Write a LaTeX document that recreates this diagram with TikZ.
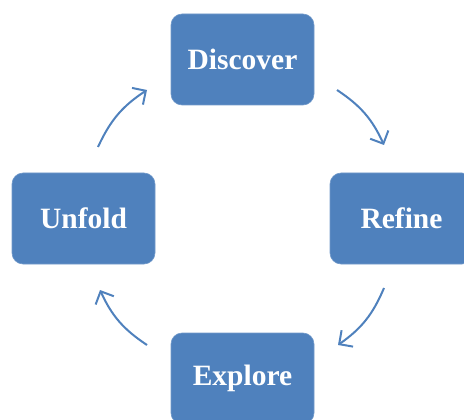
\documentclass[tikz,border=0pt]{standalone}
\usepackage{fontspec}
\setmainfont{Liberation Serif}
\usetikzlibrary{arrows.meta}
\definecolor{boxblue}{HTML}{4F81BD}
\tikzset{
  stagebox/.style={fill=boxblue, draw=boxblue!80!white, line width=0.6pt, rounded corners=11pt,
    minimum width=143pt, minimum height=91pt, inner sep=0pt,
    text=white, font=\fontsize{29.5}{32}\selectfont\bfseries},
  cyclearrow/.style={draw=boxblue, line width=2pt, bend left=16,
    -{Straight Barb[length=10pt,width=20pt,line width=2pt]}}
}
\begin{document}
\begin{tikzpicture}[x=1pt,y=-1pt]
\useasboundingbox (0,0) rectangle (464,420);
\clip (0,0) rectangle (464,420);
\node[stagebox] (discover) at (242.5,59.5) {\raisebox{1pt}{Discover}};
\node[stagebox] (refine) at (401.5,218.5) {\raisebox{1pt}{Refine}};
\node[stagebox] (explore) at (242.5,378.5) {\raisebox{1pt}{Explore}};
\node[stagebox] (unfold) at (83.5,218.5) {\raisebox{1pt}{Unfold}};
\coordinate (a1s) at (98,147);
\coordinate (a1e) at (147,90);
\coordinate (a2s) at (337,90);
\coordinate (a2e) at (384,145);
\coordinate (a3s) at (384,288);
\coordinate (a3e) at (338,345);
\coordinate (a4s) at (147,345);
\coordinate (a4e) at (100,290);
\draw[cyclearrow] (a1s) to (a1e);
\draw[cyclearrow] (a2s) to (a2e);
\draw[cyclearrow] (a3s) to (a3e);
\draw[cyclearrow] (a4s) to (a4e);
\end{tikzpicture}
\end{document}
